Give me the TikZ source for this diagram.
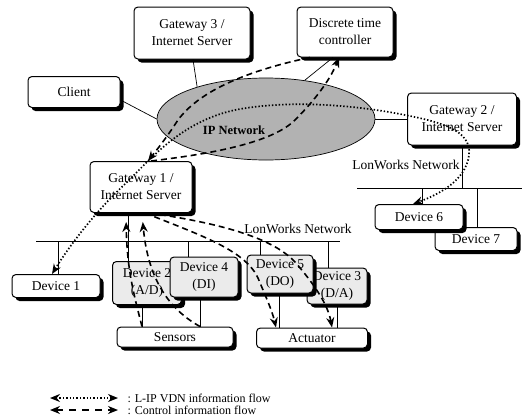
\documentclass[tikz,border=0pt]{standalone}
\usepackage{fontspec}
\setmainfont{Liberation Serif}
\usetikzlibrary{shapes.geometric, arrows.meta, shadows}

\tikzset{
  box/.style={draw, line width=1pt, rounded corners=4pt, fill=white, align=center, inner sep=1pt,
    font=\fontsize{13.5}{17}\selectfont,
    drop shadow={shadow xshift=3.5pt, shadow yshift=-3.5pt, fill=black, opacity=1}},
  devbox/.style={box, fill=gray!16},
  link/.style={line width=0.7pt},
  vdn/.style={line width=1.7pt, dash pattern=on 1.4pt off 2pt,
    {Stealth[length=10pt,width=8pt]}-{Stealth[length=10pt,width=8pt]}},
  ctrl/.style={line width=1.6pt, dash pattern=on 6pt off 4pt, -{Stealth[length=10pt,width=8pt]}},
  lbl/.style={font=\fontsize{13.5}{15}\selectfont, inner sep=1pt},
}

\begin{document}
\begin{tikzpicture}[x=1pt, y=-1pt]
    \useasboundingbox (0,0) rectangle (523,418);

    % IP network
    \node[ellipse, draw, line width=0.7pt, fill=gray!60, minimum width=218pt, minimum height=82pt] (ipn) at (266,119) {};
    \node[font=\fontsize{12.5}{14}\selectfont\bfseries] (iplabel) at (234,130) {IP Network};

    % gateways and servers
    \node[box, minimum width=116pt, minimum height=52pt] (gw3) at (192,33) {Gateway 3 /\\Internet Server};
    \node[box, minimum width=96pt, minimum height=50pt] (dtc) at (345,32) {Discrete time\\controller};
    \node[box, minimum width=92pt, minimum height=31pt] (client) at (74,92) {Client};
    \node[box, minimum width=109pt, minimum height=52pt] (gw2) at (462,119) {Gateway 2 /\\Internet Server};
    \node[box, minimum width=102pt, minimum height=51pt] (gw1) at (141,187) {Gateway 1 /\\Internet Server};

    % devices
    \node[box, minimum width=88pt, minimum height=23pt] (dev1) at (56,286) {Device 1};
    \node[devbox, minimum width=69pt, minimum height=43pt] (dev2) at (147,283) {Device 2\\(A/D)};
    \node[devbox, minimum width=68pt, minimum height=40pt] (dev4) at (204,277) {Device 4\\(DI)};
    \node[devbox, minimum width=60pt, minimum height=36pt] (dev3) at (337,286) {Device 3\\(D/A)};
    \node[devbox, minimum width=66pt, minimum height=38pt] (dev5) at (280,274) {Device 5\\(DO)};
    \node[box, minimum width=82pt, minimum height=23pt] (dev7) at (476,239) {Device 7};
    \node[box, minimum width=88pt, minimum height=25pt] (dev6) at (419,217) {Device 6};
    \node[box, minimum width=116pt, minimum height=20pt] (sens) at (175,337) {Sensors};
    \node[box, minimum width=111pt, minimum height=20pt] (act) at (312,338) {Actuator};

    % LonWorks buses
    \coordinate (bus1w) at (36,241);
    \coordinate (bus1e) at (340,241);
    \coordinate (bus2w) at (357,188);
    \coordinate (bus2e) at (522,188);
    \draw[link] (bus1w) -- (bus1e);
    \draw[link] (bus2w) -- (bus2e);
    \node[lbl] (lon1) at (298,229) {LonWorks Network};
    \node[lbl] (lon2) at (406,165) {LonWorks Network};

    % solid links
    \draw[link] ([xshift=1pt]gw3.south) -- (ipn.155);
    \draw[link] ([yshift=-8pt]client.east) -- (ipn.west);
    \draw[link] (ipn.45) -- ([xshift=-12pt]dtc.south);
    \draw[link] (ipn.east) -- (gw2.west);
    \draw[link] ([xshift=-13pt]gw1.south) -- ([xshift=-13pt]gw1.south |- bus1w);
    \draw[link] ([xshift=2pt]dev1.north) -- ([xshift=2pt]dev1.north |- bus1w);
    \draw[link] ([xshift=-19pt]dev2.north) -- ([xshift=-19pt]dev2.north |- bus1w);
    \draw[link] ([xshift=-16pt]dev4.north) -- ([xshift=-16pt]dev4.north |- bus1w);
    \draw[link] ([xshift=-20pt]dev5.north) -- ([xshift=-20pt]dev5.north |- bus1w);
    \draw[link] ([xshift=-9pt]dev3.north) -- ([xshift=-9pt]dev3.north |- bus1w);
    \draw[link] (gw2.south) -- (gw2.south |- bus2w);
    \draw[link] ([xshift=3pt]dev6.north) -- ([xshift=3pt]dev6.north |- bus2w);
    \draw[link] ([xshift=1pt]dev7.north) -- ([xshift=1pt]dev7.north |- bus2w);
    \draw[link] ([xshift=-5pt]dev2.south) -- ([xshift=-5pt]dev2.south |- sens.north);
    \draw[link] ([xshift=-4pt]dev4.south) -- ([xshift=-4pt]dev4.south |- sens.north);
    \draw[link] ([xshift=-1pt]dev5.south) -- ([xshift=-1pt]dev5.south |- act.north);
    \draw[link] (dev3.south) -- (dev3.south |- act.north);

    % L-IP VDN flow
    \draw[vdn] ([xshift=-4pt]dev1.north) .. controls (70,245) and (95,212) .. (125,184)
        .. controls (150,160) and (180,122) .. (235,110)
        .. controls (285,100) and (350,104) .. (405,115)
        .. controls (440,122) and (472,130) .. (469,155)
        .. controls (466,180) and (440,194) .. ([xshift=-6pt]dev6.north);

    % control flows
    \draw[ctrl] ([xshift=-35pt]dtc.south) .. controls (250,70) and (200,90) .. (178,120)
        .. controls (165,140) and (155,152) .. ([xshift=7pt]gw1.north);
    \draw[ctrl] ([xshift=10pt]gw1.north) .. controls (200,155) and (270,145) .. (295,120)
        .. controls (315,100) and (330,80) .. ([xshift=-6pt]dtc.south);
    \draw[ctrl, shorten >=9pt] ([xshift=-33pt]sens.north) .. controls (134,295) and (127,270) .. ([xshift=-15pt]gw1.south);
    \draw[ctrl, shorten >=9pt] ([xshift=25pt]sens.north) .. controls (170,310) and (148,280) .. ([xshift=1pt]gw1.south);
    \draw[ctrl] ([xshift=4pt]gw1.south) .. controls (200,235) and (245,250) .. (258,278)
        .. controls (265,295) and (272,310) .. ([xshift=-36pt]act.north);
    \draw[ctrl] ([xshift=9pt]gw1.south) .. controls (210,222) and (270,235) .. (295,262)
        .. controls (315,285) and (328,305) .. ([xshift=20pt]act.north);

    % legend
    \coordinate (lg1a) at (50,398);
    \coordinate (lg1b) at (118,398);
    \coordinate (lg2a) at (50,410);
    \coordinate (lg2b) at (118,410);
    \draw[vdn] (lg1a) -- (lg1b);
    \draw[ctrl, dash pattern=on 7pt off 6pt, {Stealth[length=10pt,width=8pt]}-{Stealth[length=10pt,width=8pt]}] (lg2a) -- (lg2b);
    \node[anchor=west, font=\fontsize{12}{14}\selectfont] (lg1t) at (124,398) {: L-IP VDN information flow};
    \node[anchor=west, font=\fontsize{12}{14}\selectfont] (lg2t) at (124,410) {: Control information flow};
\end{tikzpicture}
\end{document}
